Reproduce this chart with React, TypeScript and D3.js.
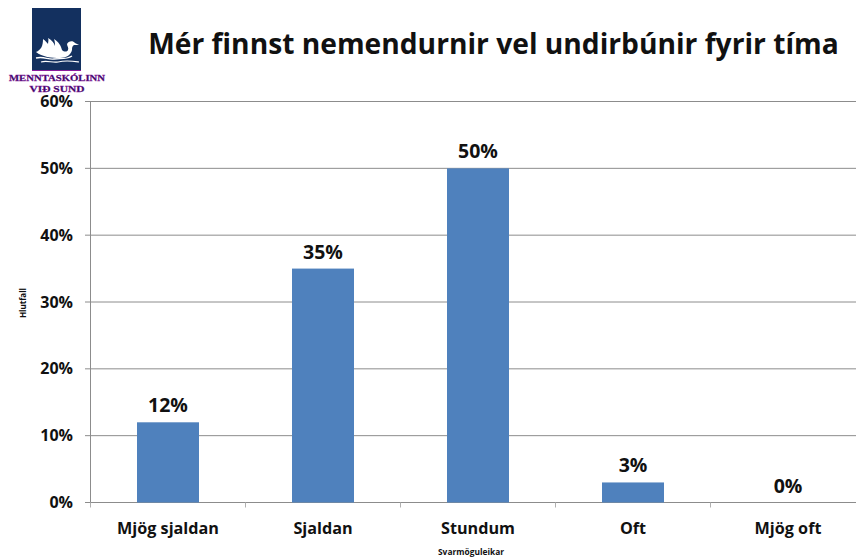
import React from 'react';
import * as d3 from 'd3';

const categories = ['Mjög sjaldan', 'Sjaldan', 'Stundum', 'Oft', 'Mjög oft'];
const values = [12, 35, 50, 3, 0];
const yTicks = [0, 10, 20, 30, 40, 50, 60];

const W = 856;
const H = 560;
const font = '"Open Sans", sans-serif';

// the plot runs a little past the right edge of the picture
const x = d3.scaleBand<string>().domain(categories).range([90.5, 865.5]).paddingInner(0.6).paddingOuter(0.3);
const band = d3.scaleBand<string>().domain(categories).range([90.5, 865.5]);
const y = d3.scaleLinear().domain([0, 60]).range([502.5, 101.5]);

const App = () => {
  const edges = categories.map(c => band(c) as number).concat(865.5);
  return (
    <svg width={W} height={H} style={{ position: 'absolute', left: 0, top: 0, background: '#fff' }}>
      <text x={493.5} y={54} textAnchor="middle" fontFamily={font} fontWeight={700} fontSize={28.2} fill="#111">
        Mér finnst nemendurnir vel undirbúnir fyrir tíma
      </text>

      {/* logo */}
      <rect x={32} y={8} width={49} height={62} fill="#13305f" />
      <rect x={32} y={70} width={49} height={1} fill="#8a1a9c" />
      <path d="M36 52 C41 50 43 46 43 39 C46 41 47 43 48 44 C48 42 49 40 48 38 C52 40 54 43 55 46 C55 44 55 42 54 39 C59 42 61 46 62 50 C64 52 67 52 68 50 C69 48 67 46 67 44 C68 41 73 40 75 43 L79 45 L74 45 C72 46 72 48 72 50 C71 55 66 58 60 58 C52 58 42 57 36 52 Z" fill="#fff" />
      <path d="M36 58 C44 56 48 60 54 59 C60 58 66 60 72 56" fill="none" stroke="#fff" strokeWidth={1.3} />
      <path d="M41 62 C47 60 52 63 58 62 C66 60 72 61 79 62" fill="none" stroke="#fff" strokeWidth={1.1} />
      <text x={57} y={81} textAnchor="middle" fontFamily='"Liberation Serif", serif' fontWeight={700} fontSize={8.5} fill="#2a0a5e" stroke="#8a1a9c" strokeWidth={0.3} textLength={96} lengthAdjust="spacingAndGlyphs">MENNTASKÓLINN</text>
      <text x={57} y={91.5} textAnchor="middle" fontFamily='"Liberation Serif", serif' fontWeight={700} fontSize={8.5} fill="#2a0a5e" stroke="#8a1a9c" strokeWidth={0.3} textLength={55} lengthAdjust="spacingAndGlyphs">VIÐ SUND</text>

      {/* gridlines and y axis */}
      {yTicks.map(t => (
        <g key={t}>
          <line x1={85} x2={W} y1={y(t)} y2={y(t)} stroke="#8c8c8c" strokeWidth={1} />
          <text x={73} y={y(t) + 5.5} textAnchor="end" fontFamily={font} fontWeight={700} fontSize={16} fill="#111">
            {t}%
          </text>
        </g>
      ))}
      <line x1={90.5} x2={90.5} y1={y(60)} y2={y(0)} stroke="#8c8c8c" />
      {edges.map((e, i) => (
        <line key={i} x1={e} x2={e} y1={y(0)} y2={y(0) + 5} stroke="#b0b0b0" />
      ))}

      {/* bars */}
      {categories.map((c, i) => (
        <g key={c}>
          <rect x={x(c)} y={y(values[i])} width={x.bandwidth()} height={y(0) - y(values[i])} fill="#4f81bd" />
          <text x={(x(c) as number) + x.bandwidth() / 2} y={y(values[i]) - 10} textAnchor="middle" fontFamily={font} fontWeight={700} fontSize={19.5} fill="#111">
            {values[i]}%
          </text>
          <text x={(x(c) as number) + x.bandwidth() / 2} y={534} textAnchor="middle" fontFamily={font} fontWeight={700} fontSize={16.2} fill="#111">
            {c}
          </text>
        </g>
      ))}

      <text x={471} y={555} textAnchor="middle" fontFamily={font} fontWeight={700} fontSize={8.4} fill="#111">Svarmöguleikar</text>
      <text transform="translate(26,303) rotate(-90)" textAnchor="middle" fontFamily={font} fontWeight={700} fontSize={8} fill="#111">Hlutfall</text>
    </svg>
  );
};

export default App;
